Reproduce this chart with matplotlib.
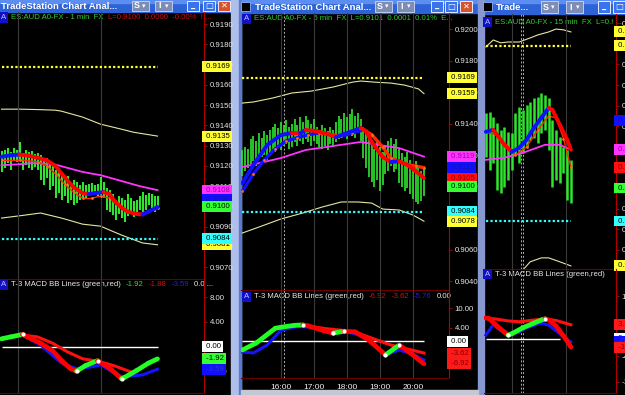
import matplotlib
matplotlib.use('Agg')
from matplotlib import pyplot as plt
from matplotlib import transforms
from matplotlib.patches import Rectangle

plt.rcParams['font.family'] = ['Liberation Sans', 'DejaVu Sans']

W, H = 625, 395

# ---------------- left window: ES:AUD A0-FX 1 min ----------------
p1_high = [0.91273, 0.91278, 0.91287, 0.91268, 0.91287, 0.91278, 0.91317, 0.91263, 0.91278, 0.91268,
           0.91273, 0.91258, 0.91263, 0.91253, 0.91228, 0.91238, 0.91218, 0.91203, 0.91179, 0.91189,
           0.91154, 0.91139, 0.91149, 0.91115, 0.91130, 0.91120, 0.91105, 0.91120, 0.91105, 0.91110,
           0.91115, 0.91105, 0.91110, 0.91144, 0.91120, 0.91090, 0.91080, 0.91060, 0.91031, 0.91050,
           0.91041, 0.91031, 0.91060, 0.91041, 0.91026, 0.91031, 0.91050, 0.91070, 0.91055, 0.91065,
           0.91060, 0.91050, 0.91050]
p1_low = [0.91169, 0.91189, 0.91213, 0.91179, 0.91228, 0.91218, 0.91228, 0.91179, 0.91203, 0.91189,
          0.91179, 0.91194, 0.91179, 0.91130, 0.91105, 0.91139, 0.91080, 0.91100, 0.91041, 0.91065,
          0.91031, 0.91050, 0.91016, 0.91031, 0.91006, 0.91016, 0.91031, 0.91041, 0.91041, 0.91050,
          0.91065, 0.91055, 0.91050, 0.91055, 0.91041, 0.90981, 0.90971, 0.90957, 0.90932, 0.90962,
          0.90942, 0.90922, 0.90952, 0.90962, 0.90947, 0.90971, 0.90981, 0.90971, 0.90981, 0.91006,
          0.90991, 0.90971, 0.90991]
p1_last = 0.9100
p1_t3_idx = [0, 3, 6, 9, 12, 15, 18, 21, 24, 27, 29, 31, 34, 36, 38, 40, 42, 45, 47, 49, 52]
p1_t3 = [0.91245, 0.91252, 0.91256, 0.91250, 0.91240, 0.91228, 0.91199, 0.91144, 0.91095, 0.91065,
         0.91060, 0.91065, 0.91070, 0.91060, 0.91021, 0.90994, 0.90974, 0.90962, 0.90960, 0.90974,
         0.90996]
p1_slow_idx = [0, 6, 12, 15, 18, 21, 24, 27, 30, 33, 36, 39, 42, 45, 48, 52]
p1_slow = [0.9123, 0.9123, 0.9122, 0.9120, 0.9116, 0.9111, 0.9107, 0.9104, 0.9104, 0.9105,
           0.9104, 0.9100, 0.9097, 0.9096, 0.9097, 0.9099]
p1_ma_idx = [0, 6, 10, 17, 22, 27, 33, 40, 46, 52]
p1_ma = [0.91203, 0.91208, 0.91213, 0.91210, 0.91190, 0.91170, 0.91154, 0.91125, 0.91100, 0.91080]
p1_bb_up_idx = [0, 6, 12, 18, 20, 27, 33, 40, 44, 52]
p1_bb_up = [0.91480, 0.91480, 0.91478, 0.91475, 0.91470, 0.91441, 0.91406, 0.91381, 0.91366, 0.91347]
p1_bb_lo_idx = [0, 7, 13, 20, 27, 33, 40, 47, 52]
p1_bb_lo = [0.90942, 0.90955, 0.90967, 0.90942, 0.90912, 0.90902, 0.90858, 0.90819, 0.90810]
p1_level_top = 0.9169
p1_level_bot = 0.9084
p1_macd_idx = [0, 3, 7, 10, 13, 17, 20, 23, 25, 28, 32, 36, 40, 41, 45, 49, 52]
p1_macd = [1.3, 1.6, 2.0, 1.3, 0.6, -0.6, -2.2, -3.5, -3.9, -3.0, -2.2, -3.4, -5.1, -4.9, -3.8, -2.6, -1.92]
p1_blue_idx = [0, 7, 13, 20, 25, 30, 33, 40, 47, 52]
p1_blue = [1.3, 1.9, 0.3, -2.6, -3.5, -3.2, -2.9, -4.8, -4.5, -3.59]
p1_sig_idx = [7, 12, 17, 22, 27, 33, 38, 43]
p1_sig = [1.9, 1.6, 0.6, -0.8, -1.9, -2.4, -3.1, -4.0]
p1_grid_idx = [5.5, 33]
p1_price_ticks = [0.9070, 0.9080, 0.9090, 0.9100, 0.9110, 0.9120, 0.9130, 0.9140, 0.9150,
                  0.9160, 0.9170, 0.9180, 0.9190]
p1_macd_ticks = [8, 4, -4]

# ---------------- middle window: ES:AUD A0-FX 5 min ----------------
p2_high = [0.9123, 0.9125, 0.9124, 0.9130, 0.9132, 0.9129, 0.9134, 0.9131, 0.9135, 0.9133,
           0.9136, 0.9138, 0.9140, 0.9137, 0.9141, 0.9139, 0.9142, 0.9138, 0.9140, 0.9143,
           0.9139, 0.9144, 0.9141, 0.9145, 0.9142, 0.9140, 0.9143, 0.9138, 0.9136, 0.9139,
           0.9137, 0.9135, 0.9138, 0.9136, 0.9141, 0.9145, 0.9143, 0.9147, 0.9144, 0.9146,
           0.9149, 0.9145, 0.9147, 0.9143, 0.9138, 0.9135, 0.9130, 0.9127, 0.9124, 0.9128,
           0.9125, 0.9122, 0.9126, 0.9129, 0.9131, 0.9127, 0.9130, 0.9124, 0.9121, 0.9119,
           0.9122, 0.9117, 0.9114, 0.9116, 0.9112, 0.9110, 0.9113]
p2_low = [0.9107, 0.9110, 0.9112, 0.9114, 0.9116, 0.9113, 0.9118, 0.9119, 0.9120, 0.9117,
          0.9121, 0.9124, 0.9122, 0.9125, 0.9123, 0.9126, 0.9127, 0.9124, 0.9125, 0.9128,
          0.9126, 0.9129, 0.9127, 0.9130, 0.9128, 0.9126, 0.9129, 0.9127, 0.9125, 0.9124,
          0.9126, 0.9123, 0.9127, 0.9125, 0.9128, 0.9130, 0.9131, 0.9132, 0.9130, 0.9133,
          0.9132, 0.9131, 0.9134, 0.9129, 0.9118, 0.9112, 0.9106, 0.9103, 0.9100, 0.9104,
          0.9097, 0.9101, 0.9108, 0.9110, 0.9113, 0.9109, 0.9111, 0.9102, 0.9100, 0.9097,
          0.9099, 0.9095, 0.9092, 0.9090, 0.9089, 0.9091, 0.9094]
p2_last = 0.9100
p2_t3_idx = [0, 4, 9, 14, 18, 21, 23, 27, 31, 34, 37, 43, 45, 47, 51, 54, 57, 60, 63, 66]
p2_t3 = [0.91022, 0.91137, 0.91263, 0.91327, 0.91340, 0.91338, 0.91359, 0.91352, 0.91333, 0.91314,
         0.91333, 0.91371, 0.91352, 0.91283, 0.91187, 0.91156, 0.91160, 0.91137, 0.91098, 0.91054]
p2_slow_idx = [0, 4, 8, 12, 16, 20, 24, 28, 32, 36, 40, 44, 47, 51, 54, 57, 60, 63, 66]
p2_slow = [0.9097, 0.9108, 0.9117, 0.9124, 0.9129, 0.9131, 0.9133, 0.9134, 0.9133, 0.9132,
           0.9134, 0.9136, 0.9133, 0.9125, 0.9118, 0.9116, 0.9114, 0.9113, 0.9112]
p2_ma_idx = [0, 14, 23, 43, 50, 57, 66]
p2_ma = [0.91124, 0.91181, 0.91232, 0.91283, 0.91263, 0.91244, 0.91190]
p2_bb_up_idx = [0, 4, 11, 18, 25, 33, 40, 43, 48, 54, 59, 64, 66]
p2_bb_up = [0.91530, 0.91537, 0.91562, 0.91594, 0.91606, 0.91632, 0.91663, 0.91670, 0.91663,
            0.91657, 0.91644, 0.91620, 0.91590]
p2_bb_lo_idx = [0, 7, 14, 22, 29, 36, 42, 47, 51, 57, 62, 66]
p2_bb_lo = [0.90705, 0.90749, 0.90794, 0.90832, 0.90870, 0.90902, 0.90902, 0.90895, 0.90857,
            0.90851, 0.90819, 0.90780]
p2_level_top = 0.9169
p2_level_bot = 0.9084
p2_macd_idx = [0, 5, 12, 14, 19, 22, 24, 29, 33, 37, 41, 46, 52, 57, 62, 66]
p2_macd = [-2.7, -0.6, 3.9, 4.2, 4.8, 4.9, 4.6, 3.3, 2.4, 3.0, 2.8, 0.3, -4.2, -1.2, -4.2, -6.92]
p2_blue_idx = [0, 4, 9, 14, 20, 26, 33, 38, 44, 52, 57, 62, 66]
p2_blue = [-3.3, -3.6, -1.2, 3.3, 4.4, 4.2, 2.6, 2.8, 1.5, -4.2, -2.7, -4.0, -5.76]
p2_sig_idx = [24, 30, 36, 42, 48, 54, 60, 66]
p2_sig = [4.6, 3.8, 3.3, 2.4, 0.6, -1.2, -2.4, -3.62]
p2_hour_idx = [14, 26, 38, 50, 62]
p2_hour_labels = ['16:00', '17:00', '18:00', '19:00', '20:00']
p2_session_idx = [14, 15]
p2_price_ticks = [0.9040, 0.9060, 0.9080, 0.9100, 0.9120, 0.9140, 0.9160, 0.9180, 0.9200]
p2_macd_ticks = [10, 4]

# ---------------- right window: ES:AUD A0-FX 15 min ----------------
p3_high = [0.91365, 0.91370, 0.91346, 0.91317, 0.91283, 0.91297, 0.91273, 0.91268, 0.91365, 0.91394,
           0.91380, 0.91404, 0.91418, 0.91438, 0.91443, 0.91462, 0.91452, 0.91438, 0.91331, 0.91283,
           0.91249, 0.91200, 0.91186, 0.91137]
p3_low = [0.91152, 0.91089, 0.91123, 0.90992, 0.90977, 0.91006, 0.91040, 0.91089, 0.91161, 0.91123,
          0.91171, 0.91200, 0.91234, 0.91244, 0.91220, 0.91268, 0.91283, 0.91186, 0.91006, 0.91040,
          0.91026, 0.91074, 0.90943, 0.90929]
p3_last = 0.9100
p3_t3_idx = [0, 2, 3, 5, 7, 9, 11, 13, 15, 17, 18, 20, 22, 23]
p3_t3 = [0.91273, 0.91283, 0.91259, 0.91210, 0.91176, 0.91195, 0.91234, 0.91292, 0.91341, 0.91389,
         0.91380, 0.91307, 0.91234, 0.91186]
p3_slow_idx = [0, 3, 6, 8, 11, 14, 17, 19, 21, 23]
p3_slow = [0.9127, 0.9126, 0.9120, 0.9116, 0.9120, 0.9128, 0.9135, 0.9134, 0.9124, 0.9110]
p3_blue_label = 0.9133
p3_ma_idx = [0, 5, 10, 16, 20, 23]
p3_ma = [0.91137, 0.91147, 0.91171, 0.91210, 0.91210, 0.91186]
p3_bb_up_idx = [0, 2, 4, 6, 9, 12, 14, 17, 19, 21, 23]
p3_bb_up = [0.91685, 0.91719, 0.91705, 0.91709, 0.91709, 0.91729, 0.91743, 0.91758, 0.91772,
            0.91768, 0.91758]
p3_bb_lo_idx = [0, 5, 10, 12, 15, 17, 20, 23]
p3_bb_lo = [0.9050, 0.9055, 0.90602, 0.90642, 0.90661, 0.90661, 0.90642, 0.90622]
p3_level_top = 0.9169
p3_level_bot = 0.9084
p3_macd_idx = [0, 1, 3, 5, 6, 7, 10, 13, 15, 16, 17, 19, 21, 22, 23]
p3_macd = [4.9, 4.7, 3.0, 1.6, 0.9, 1.2, 2.6, 3.7, 4.4, 4.7, 4.4, 3.0, 0.7, -0.5, -1.9]
p3_blue_idx = [0, 2, 4, 6, 9, 11, 15, 17, 20, 22, 23]
p3_blue = [0.9, 3.3, 2.0, 0.9, 1.6, 2.6, 3.7, 3.2, 1.2, -0.2, -0.7]
p3_sig_idx = [0, 3, 6, 9, 12, 16, 19, 23]
p3_sig = [4.9, 4.6, 4.2, 4.0, 4.3, 4.7, 4.3, 3.3]
p3_grid_idx = [7, 21.6]
p3_session_idx = [9.5, 10]
p3_price_ticks = [0.9070, 0.9080, 0.9090, 0.9100, 0.9110, 0.9120, 0.9130, 0.9140, 0.9150,
                  0.9160, 0.9170, 0.9180]
p3_macd_ticks = [10, 4, -4, -10]

GREEN_BAR = '#2ee62e'
YELLOW = '#ffff33'
CYAN = '#33ffff'
MAGENTA = '#ff33ff'
BB = '#e6e6a0'

fig = plt.figure(figsize=(W / 100, H / 100), dpi=100, facecolor='black')

# background layer in pixel units (window frames, title bars, header texts)
bg = fig.add_axes([0, 0, 1, 1])
bg.set_xlim(0, W)
bg.set_ylim(H, 0)
bg.axis('off')
bg.set_facecolor('black')
bg.add_patch(Rectangle((0, 0), W, H, color='black', zorder=0))


def px_axes(x0, y0, x1, y1):
    ax = fig.add_axes([x0 / W, 1 - y1 / H, (x1 - x0) / W, (y1 - y0) / H])
    ax.set_facecolor('none')
    for s in ax.spines.values():
        s.set_visible(False)
    return ax


def style_axes(ax, xlim, ylim, ticks, fmt, grid_idx):
    ax.set_xlim(*xlim)
    ax.set_ylim(*ylim)
    ax.yaxis.tick_right()
    ax.set_yticks(ticks)
    ax.set_yticklabels([fmt % t for t in ticks])
    ax.tick_params(axis='y', colors='#a00000', labelcolor='#e6e6e6', labelsize=5.6,
                   length=2.5, width=0.8, pad=1.5)
    ax.set_xticks(grid_idx)
    ax.tick_params(axis='x', length=0, labelbottom=False)
    ax.grid(axis='x', color='#3a3a3a', lw=0.8)
    ax.spines['right'].set_visible(True)
    ax.spines['right'].set_color('#b00000')
    ax.spines['bottom'].set_visible(True)
    ax.spines['bottom'].set_color('#6a0000')


def two_tone(ax, idx, vals, up, down, lw, z=4):
    for i in range(len(idx) - 1):
        c = up if vals[i + 1] >= vals[i] else down
        ax.plot(idx[i:i + 2], vals[i:i + 2], color=c, lw=lw, solid_capstyle='round', zorder=z)


def turn_dots(ax, idx, vals, size):
    # white dots where the thick MACD line changes direction
    for i in range(1, len(idx) - 1):
        if (vals[i] - vals[i - 1]) * (vals[i + 1] - vals[i]) < 0:
            ax.scatter([idx[i]], [vals[i]], s=size, color='white', zorder=6, lw=0)


def box(ax, value, text, face, tc, z=5):
    tr = transforms.blended_transform_factory(ax.transAxes, ax.transData)
    ax.text(1.0, value, ' ' + text, transform=tr, fontsize=5.6, color=tc, va='center', ha='left',
            clip_on=False, zorder=z,
            bbox=dict(facecolor=face, edgecolor='none', boxstyle='square,pad=0.25'))


def header(x, y, parts, fs=5.6):
    t = bg.text(x, y, 'A', color='#c0c0ff', fontsize=fs, va='center', ha='left', zorder=10,
                bbox=dict(facecolor='#1010c8', edgecolor='none', boxstyle='square,pad=0.2'))
    for s, c in parts:
        t = bg.annotate(s, xy=(1, 0.5), xycoords=t, xytext=(3.5, 0), textcoords='offset points',
                        color=c, fontsize=fs, va='center', ha='left', zorder=10)


def price_panel(ax, high, low, t3_idx, t3, slow_idx, slow, ma_idx, ma, up_idx, up, lo_idx, lo,
                top, bot, bar_lw, slow_lw, slow_up):
    n = len(high)
    ax.vlines(range(n), low, high, color=GREEN_BAR, lw=bar_lw, zorder=2)
    ax.plot(up_idx, up, color=BB, lw=0.8, zorder=1)
    ax.plot(lo_idx, lo, color=BB, lw=0.8, zorder=1)
    ax.plot(ma_idx, ma, color=MAGENTA, lw=1.3, zorder=3)
    ax.hlines(top, 0, n - 1, color=YELLOW, lw=1.6, linestyles=(0, (1, 1)), zorder=3)
    ax.hlines(bot, 0, n - 1, color=CYAN, lw=1.6, linestyles=(0, (1, 1)), zorder=3)
    two_tone(ax, slow_idx, slow, slow_up, '#ff2a00', slow_lw, z=4)
    ax.scatter(slow_idx, slow, s=4, color='#ff6a20', zorder=4, lw=0)
    two_tone(ax, t3_idx, t3, '#1010ff', '#ff0000', 2.8, z=5)


def macd_panel(ax, m_idx, m, b_idx, b, s_idx, s, n):
    ax.hlines(0, 0, n - 1, color='white', lw=1.0, zorder=2)
    ax.plot(b_idx, b, color='#1414ff', lw=2.2, zorder=3)
    ax.plot(s_idx, s, color='#ff1010', lw=2.2, zorder=3)
    two_tone(ax, m_idx, m, '#22ff22', '#ff0000', 3.4, z=4)
    turn_dots(ax, m_idx, m, 9)


# ---------- window frames and title bars ----------
def title_bar(x0, x1, h, text, tx, s_x, i_x, btn_x, icon=None):
    bg.add_patch(Rectangle((x0, 0), x1 - x0, h, color='#2d63d6', zorder=1))
    bg.add_patch(Rectangle((x0, 0), x1 - x0, 2.5, color='#5b8ef0', zorder=1))
    if icon is not None:
        bg.add_patch(Rectangle((icon, 2), 9, 9, facecolor='black', edgecolor='#8fb0ff', lw=0.6, zorder=2))
    bg.text(tx, h / 2 + 0.5, text, color='white', fontsize=6.8, fontweight='bold', va='center',
            ha='left', zorder=3)
    for bx, lab in ((s_x, 'S'), (i_x, 'I')):
        bg.add_patch(Rectangle((bx, 0.5), 17, h - 2, facecolor='#7d8db5', edgecolor='#d0d8f0',
                               lw=0.6, zorder=2))
        bg.text(bx + 5, h / 2, lab, color='white', fontsize=6.5, fontweight='bold', va='center',
                ha='center', zorder=3)
        bg.text(bx + 12, h / 2, '▾', color='white', fontsize=5, va='center', ha='center', zorder=3,
                family='DejaVu Sans')
    for k, bx in enumerate(btn_x):
        face = '#d9522c' if k == 2 else '#3a74ec'
        bg.add_patch(Rectangle((bx, 0.5), 12, h - 2, facecolor=face, edgecolor='white', lw=0.6, zorder=2))
        glyph = ['_', '□', '✕'][k]
        bg.text(bx + 6, h / 2 - 0.5, glyph, color='white', fontsize=6, va='center', ha='center',
                zorder=3, family='DejaVu Sans', fontweight='bold')


title_bar(0, 231, 12, 'TradeStation Chart Anal...', 1, 132, 155, [187, 203, 218])
title_bar(241, 478, 13, 'TradeStation Chart Anal...', 255, 375, 397, [431, 445, 460], icon=241)
title_bar(484, 625, 14, 'Trade...', 496, 541, 566, [598, 613, 640], icon=483)

# frames between windows
bg.add_patch(Rectangle((231, 0), 10, H, color='#aebfeb', zorder=1))
bg.add_patch(Rectangle((238.5, 0), 2, H, color='#5a7bcc', zorder=1))
bg.add_patch(Rectangle((478, 0), 6, H, color='#8797cf', zorder=1))
bg.add_patch(Rectangle((241, 390), 237, 5, color='#c4c8d4', zorder=1))

# ---------- window 1 ----------
ax1 = px_axes(0, 12, 204, 279)
style_axes(ax1, (-0.5, 67.5), (0.90641, 0.91960), p1_price_ticks, '%.4f', p1_grid_idx)
price_panel(ax1, p1_high, p1_low, p1_t3_idx, p1_t3, p1_slow_idx, p1_slow, p1_ma_idx, p1_ma,
            p1_bb_up_idx, p1_bb_up, p1_bb_lo_idx, p1_bb_lo, p1_level_top, p1_level_bot, 1.5, 1.0,
            '#ff2a00')
box(ax1, p1_level_top, '%.4f' % p1_level_top, YELLOW, 'black')
box(ax1, p1_bb_up[-1], '%.4f' % p1_bb_up[-1], YELLOW, 'black')
box(ax1, p1_ma[-1], '%.4f' % p1_ma[-1], MAGENTA, '#a000a0')
box(ax1, p1_t3[-1] + 0.0004, '%.4f' % p1_t3[-1], '#1010ff', '#1010b0')
box(ax1, p1_last, '%.4f' % p1_last, '#33ff33', 'black')
box(ax1, p1_bb_lo[-1], '%.4f' % p1_bb_lo[-1], YELLOW, 'black')
box(ax1, p1_level_bot, '%.4f' % p1_level_bot, CYAN, 'black')

am1 = px_axes(0, 279, 204, 393)
style_axes(am1, (-0.5, 67.5), (-7.4, 10.9), p1_macd_ticks, '%.2f', p1_grid_idx)
macd_panel(am1, p1_macd_idx, p1_macd, p1_blue_idx, p1_blue, p1_sig_idx, p1_sig, len(p1_high))
box(am1, 0, '0.00', 'white', 'black')
box(am1, p1_macd[-1], '%.2f' % p1_macd[-1], '#33ff33', 'black')
box(am1, p1_blue[-1], '%.2f' % p1_blue[-1], '#1010ff', '#3030d0')

header(1, 17.5, [('ES:AUD A0-FX - 1 min  FX', '#33cc33'),
                 ('L=0.9100  0.0000  -0.00%  ! ...', '#cc1010')])
header(1, 284.5, [('T-3 MACD BB Lines (green,red)', '#e8e8e8'),
                  ('%.2f' % p1_macd[-1], '#33dd33'), ('-1.88', '#cc1010'),
                  ('%.2f' % p1_blue[-1], '#2020e0'), ('0.0 ...', '#e8e8e8')])

# ---------- window 2 ----------
ax2 = px_axes(241, 13, 449, 290)
style_axes(ax2, (-0.5, 75.1), (0.90343, 0.92102), p2_price_ticks, '%.4f', p2_hour_idx)
price_panel(ax2, p2_high, p2_low, p2_t3_idx, p2_t3, p2_slow_idx, p2_slow, p2_ma_idx, p2_ma,
            p2_bb_up_idx, p2_bb_up, p2_bb_lo_idx, p2_bb_lo, p2_level_top, p2_level_bot, 1.2, 2.4,
            '#1010ff')
for s in p2_session_idx:
    ax2.axvline(s, color='#b0b0b0', lw=0.7, ls=(0, (2, 2)), zorder=1)
box(ax2, p2_level_top, '%.4f' % p2_level_top, YELLOW, 'black')
box(ax2, p2_bb_up[-1], '%.4f' % p2_bb_up[-1], YELLOW, 'black')
box(ax2, p2_ma[-1], '%.4f' % p2_ma[-1], MAGENTA, '#a000a0')
box(ax2, p2_slow[-1], '%.4f' % p2_slow[-1], '#1010ff', '#1010b0')
box(ax2, p2_t3[-1], '%.4f' % p2_t3[-1], '#ff1010', '#900000')
box(ax2, p2_last, '%.4f' % p2_last, '#33ff33', 'black')
box(ax2, p2_level_bot, '%.4f' % p2_level_bot, CYAN, 'black')
box(ax2, p2_bb_lo[-1], '%.4f' % p2_bb_lo[-1], YELLOW, 'black')

am2 = px_axes(241, 290, 449, 378)
style_axes(am2, (-0.5, 75.1), (-11.2, 15.5), p2_macd_ticks, '%.2f', p2_hour_idx)
am2.set_xticklabels(p2_hour_labels)
am2.tick_params(axis='x', labelbottom=True, labelcolor='#f0f0f0', labelsize=6, pad=4)
for s in p2_session_idx:
    am2.axvline(s, color='#b0b0b0', lw=0.7, ls=(0, (2, 2)), zorder=1)
macd_panel(am2, p2_macd_idx, p2_macd, p2_blue_idx, p2_blue, p2_sig_idx, p2_sig, len(p2_high))
box(am2, 0, '0.00', 'white', 'black')
box(am2, p2_sig[-1], '%.2f' % p2_sig[-1], '#ff1a1a', '#800000')
box(am2, p2_macd[-1], '%.2f' % p2_macd[-1], '#ff1a1a', '#800000')

header(244, 19, [('ES:AUD A0-FX - 5 min  FX  L=0.9101  0.0001  0.01%  E...', '#33cc33')])
header(244, 297, [('T-3 MACD BB Lines (green,red)', '#e8e8e8'),
                  ('%.2f' % p2_macd[-1], '#cc1010'), ('%.2f' % p2_sig[-1], '#cc1010'),
                  ('%.2f' % p2_blue[-1], '#2020e0'), ('0.00', '#e8e8e8')])

# ---------- window 3 ----------
ax3 = px_axes(484, 14, 616, 269)
style_axes(ax3, (-0.5, 35.2), (0.90607, 0.91845), p3_price_ticks, '%.4f', p3_grid_idx)
price_panel(ax3, p3_high, p3_low, p3_t3_idx, p3_t3, p3_slow_idx, p3_slow, p3_ma_idx, p3_ma,
            p3_bb_up_idx, p3_bb_up, p3_bb_lo_idx, p3_bb_lo, p3_level_top, p3_level_bot, 1.8, 1.0,
            '#ff2a00')
for s in p3_session_idx:
    ax3.axvline(s, color='#b0b0b0', lw=0.7, ls=(0, (2, 2)), zorder=1)
box(ax3, p3_bb_up[-1], '%.4f' % p3_bb_up[-1], YELLOW, 'black')
box(ax3, p3_level_top, '%.4f' % p3_level_top, YELLOW, 'black')
box(ax3, p3_blue_label, '%.4f' % p3_blue_label, '#1010ff', '#1010b0')
box(ax3, p3_ma[-1], '%.4f' % p3_ma[-1], MAGENTA, '#a000a0')
box(ax3, p3_slow[-1], '%.4f' % p3_slow[-1], '#ff1010', '#900000')
box(ax3, p3_last, '%.4f' % p3_last, '#33ff33', 'black')
box(ax3, p3_level_bot, '%.4f' % p3_level_bot, CYAN, 'black')
box(ax3, p3_bb_lo[-1], '%.4f' % p3_bb_lo[-1], YELLOW, 'black')

am3 = px_axes(484, 269, 616, 393)
style_axes(am3, (-0.5, 35.2), (-12.6, 16.3), p3_macd_ticks, '%.2f', p3_grid_idx)
for s in p3_session_idx:
    am3.axvline(s, color='#b0b0b0', lw=0.7, ls=(0, (2, 2)), zorder=1)
macd_panel(am3, p3_macd_idx, p3_macd, p3_blue_idx, p3_blue, p3_sig_idx, p3_sig, 21)
box(am3, p3_sig[-1], '%.2f' % p3_sig[-1], '#ff1a1a', '#800000')
box(am3, 0, '0.00', 'white', 'black')
box(am3, p3_blue[-1], '%.2f' % p3_blue[-1], '#1010ff', '#3030d0')
box(am3, p3_macd[-1], '%.2f' % p3_macd[-1], '#ff1a1a', '#800000')

header(485, 22, [('ES:AUD A0-FX - 15 min  FX  L=0.! ...', '#33cc33')])
header(485, 274, [('T-3 MACD BB Lines (green,red)', '#e8e8e8')])

fig.savefig('out.png', dpi=100, facecolor='black')
